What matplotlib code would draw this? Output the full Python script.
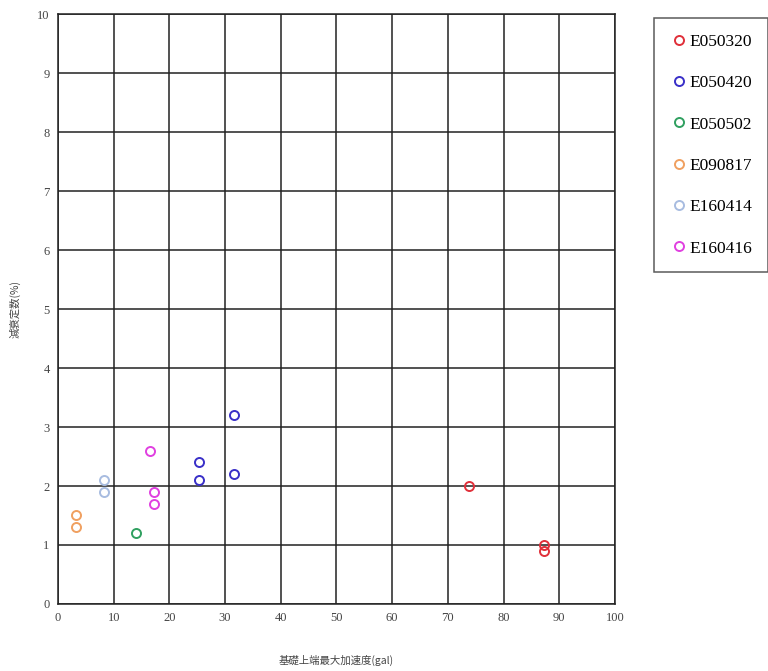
import matplotlib
matplotlib.use("Agg")
import matplotlib.pyplot as plt

# event data: (max acceleration at foundation top [gal], damping ratio [%])
labels = ["E050320", "E050420", "E050502", "E090817", "E160414", "E160416"]
colors = ["#e0303a", "#3a30c8", "#30a060", "#f0a060", "#a8bce0", "#e040e0"]
acc_x = [
    [73.8, 87.2, 87.2],
    [25.4, 25.4, 31.6, 31.6],
    [14.0],
    [3.2, 3.2],
    [8.2, 8.2],
    [16.5, 17.3, 17.3],
]
damp_y = [
    [2.0, 1.0, 0.9],
    [2.4, 2.1, 3.2, 2.2],
    [1.2],
    [1.5, 1.3],
    [2.1, 1.9],
    [2.6, 1.9, 1.7],
]
xticks = list(range(0, 101, 10))
yticks = list(range(0, 11, 1))

fig = plt.figure(figsize=(7.68, 6.71), dpi=100)
ax = fig.add_axes([0.0755, 0.0999, 0.7253, 0.879])

for lab, c, xs, ys in zip(labels, colors, acc_x, damp_y):
    ax.plot(xs, ys, linestyle="none", marker="o", markersize=6.5,
            markerfacecolor="none", markeredgecolor=c, markeredgewidth=1.4,
            label=lab, zorder=3)

ax.set_xlim(0, 100)
ax.set_ylim(0, 10)
ax.set_xticks(xticks)
ax.set_yticks(yticks)
ax.grid(True, color="#222222", linewidth=1.1)
for s in ax.spines.values():
    s.set_color("#222222")
    s.set_linewidth(1.1)
ax.tick_params(length=0, pad=6, labelsize=9, colors="#444444")
for t in ax.get_xticklabels() + ax.get_yticklabels():
    t.set_family("Liberation Serif")

ax.set_xlabel("基礎上端最大加速度(gal)", family=["Noto Sans CJK JP", "DejaVu Sans"],
              fontsize=7.5, color="#444444", labelpad=22)
ax.set_ylabel("減衰定数(%)", family=["Noto Sans CJK JP", "DejaVu Sans"],
              fontsize=7.5, color="#444444", labelpad=12)

leg = fig.legend(loc="upper left", bbox_to_anchor=(0.852, 0.973),
                 prop={"family": "Liberation Serif", "size": 12.5},
                 frameon=True, fancybox=False, edgecolor="#333333",
                 labelspacing=1.45, handletextpad=0.1, handlelength=1.0,
                 borderpad=0.9, borderaxespad=0)
leg.get_frame().set_linewidth(1.1)

fig.savefig("out.png", dpi=100)
